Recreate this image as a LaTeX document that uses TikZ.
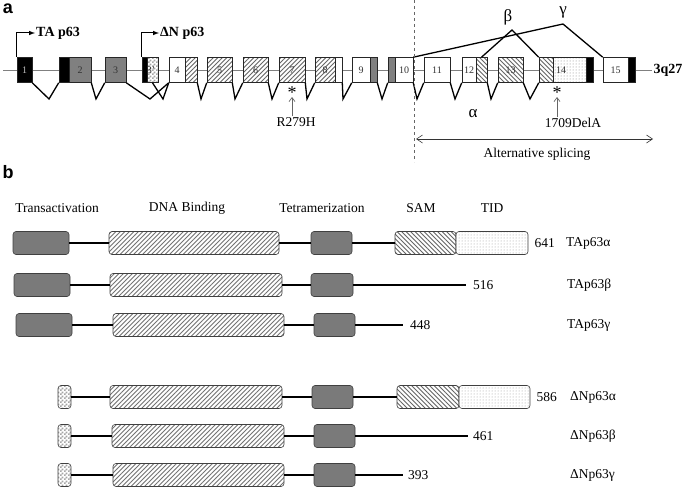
\documentclass[tikz,border=0pt]{standalone}
\usepackage{fontspec}
\setmainfont{Liberation Serif}
\setsansfont{Liberation Sans}
\usetikzlibrary{patterns,positioning,arrows.meta}

\pgfdeclarepatternformonly{hatchne}{\pgfqpoint{-1pt}{-1pt}}{\pgfqpoint{5.5pt}{5.5pt}}{\pgfqpoint{4.5pt}{4.5pt}}{%
  \pgfsetlinewidth{0.9pt}
  \pgfpathmoveto{\pgfqpoint{0pt}{0pt}}
  \pgfpathlineto{\pgfqpoint{4.6pt}{4.6pt}}
  \pgfusepath{stroke}}
\pgfdeclarepatternformonly{hatchnw}{\pgfqpoint{-1pt}{-1pt}}{\pgfqpoint{5.5pt}{5.5pt}}{\pgfqpoint{4.5pt}{4.5pt}}{%
  \pgfsetlinewidth{0.9pt}
  \pgfpathmoveto{\pgfqpoint{0pt}{4.5pt}}
  \pgfpathlineto{\pgfqpoint{4.6pt}{-0.1pt}}
  \pgfusepath{stroke}}
\pgfdeclarepatternformonly{smallcheck}{\pgfqpoint{0pt}{0pt}}{\pgfqpoint{4pt}{4pt}}{\pgfqpoint{4pt}{4pt}}{%
  \pgfpathrectangle{\pgfqpoint{0pt}{0pt}}{\pgfqpoint{2pt}{2pt}}
  \pgfpathrectangle{\pgfqpoint{2pt}{2pt}}{\pgfqpoint{2pt}{2pt}}
  \pgfusepath{fill}}

\begin{document}
\begin{tikzpicture}[x=1pt,y=-1pt,
   exon/.style={draw=black!85,line width=.6pt,minimum height=25pt,inner sep=0pt,
     font=\fontsize{10}{10}\selectfont,text=black!80},
   blk/.style={exon,fill=black},
   gry/.style={exon,fill=black!50},
   wht/.style={exon,fill=white},
   hne/.style={exon,preaction={fill=white},pattern=hatchne,pattern color=black!60},
   hnw/.style={exon,preaction={fill=white},pattern=hatchnw,pattern color=black!60},
   dts/.style={exon,preaction={fill=white},pattern=dots,pattern color=black!50},
   chk/.style={exon,preaction={fill=white},pattern=smallcheck,pattern color=black!35},
   splice/.style={line width=1.3pt},
   txt/.style={font=\fontsize{13.5}{14}\selectfont,inner sep=1pt},
   bold/.style={font=\fontsize{14}{14}\selectfont\bfseries,inner sep=1pt},
   greek/.style={font=\fontsize{17}{17}\selectfont,inner sep=0pt},
   star/.style={font=\fontsize{18}{18}\selectfont,inner sep=0pt,anchor=north},
   panel/.style={font=\sffamily\bfseries\fontsize{18}{18}\selectfont,inner sep=0pt},
   barb/.style={{Straight Barb[length=6pt,width=8pt]}-{Straight Barb[length=6pt,width=8pt]}},
   mut/.style={-{Straight Barb[length=4pt,width=6pt]},black!60,line width=.7pt},
   dom/.style={draw=black!75,line width=.6pt,rounded corners=3pt,minimum height=23pt,inner sep=0pt},
   tadom/.style={dom,fill=black!52},
   dnadom/.style={dom,preaction={fill=white},pattern=hatchne,pattern color=black!55},
   samdom/.style={dom,preaction={fill=white},pattern=hatchnw,pattern color=black!60},
   tiddom/.style={dom,preaction={fill=white},pattern=dots,pattern color=black!40},
   chkdom/.style={dom,preaction={fill=white},pattern=smallcheck,pattern color=black!35},
   link/.style={line width=2.2pt}]
   \useasboundingbox (0,0) rectangle (685,487);

   \node[panel] (pa) at (8,9) {a};
   \node[panel] (pb) at (8,172) {b};

   \node[bold] (q27) at (668,70) {3q27};
   \coordinate (gstart) at (3,70);
   \draw[black!50,line width=.8pt] (gstart) -- (q27);

   \node[blk,minimum width=15pt] (e1) at (24.5,70) {\color{black!25}1};
   \node[blk,minimum width=10pt] (e2a) at (64,70) {};
   \node[gry,minimum width=22pt] (e2) at (80,70) {2};
   \node[gry,minimum width=21pt] (e3) at (115.5,70) {3};
   \node[blk,minimum width=5pt] (e3a) at (144.5,70) {};
   \node[chk,minimum width=11pt] (e3b) at (152.5,70) {};
   \node[exon,draw=none,minimum height=0pt] (l3) at (151,70) {3'};
   \node[wht,minimum width=16pt] (e4) at (177,70) {4};
   \node[hne,minimum width=12pt] (e4b) at (191,70) {};
   \node[hne,minimum width=25pt] (e5) at (219.5,70) {5};
   \node[hne,minimum width=25pt] (e6) at (255.5,70) {6};
   \node[hne,minimum width=26pt] (e7) at (292,70) {7};
   \node[hne,minimum width=20pt] (e8) at (325,70) {8};
   \node[wht,minimum width=7pt] (e8b) at (338.5,70) {};
   \node[wht,minimum width=18pt] (e9) at (361,70) {9};
   \node[gry,minimum width=7pt] (e9b) at (373.5,70) {};
   \node[gry,minimum width=7pt] (e10a) at (391.5,70) {};
   \node[wht,minimum width=18pt] (e10) at (404,70) {10};
   \node[wht,minimum width=26pt] (e11) at (437,70) {11};
   \node[wht,minimum width=14pt] (e12) at (469,70) {12};
   \node[hnw,minimum width=11pt] (e12b) at (481.5,70) {};
   \node[hnw,minimum width=25pt] (e13) at (510.5,70) {13};
   \node[hnw,minimum width=14pt] (e14a) at (546,70) {};
   \node[dts,minimum width=33pt] (e14) at (569.5,70) {};
   \node[exon,draw=none,minimum height=0pt] (l14) at (561,70) {14};
   \node[blk,minimum width=7pt] (e14b) at (589.5,70) {};
   \node[wht,minimum width=25pt] (e15) at (615.5,70) {15};
   \node[blk,minimum width=7pt] (e15b) at (631.5,70) {};

   \draw[splice] (e1.south east) -- (49,99) -- (e2a.south west);
   \draw[splice] (e2.south east) -- (96,99) -- (e3.south west);
   \draw[splice] (e3.south east) -- (150,99) -- (e4.south west);
   \draw[splice] (e3b.south) -- (163,99) -- (e4.south west);
   \draw[splice] (e4b.south east) -- (201,99) -- (e5.south west);
   \draw[splice] (e5.south east) -- (235,99) -- (e6.south west);
   \draw[splice] (e6.south east) -- (272,99) -- (e7.south west);
   \draw[splice] (e7.south east) -- (307,99) -- (e8.south west);
   \draw[splice] (e8b.south east) -- (343,99) -- (e9.south west);
   \draw[splice] (e9b.south east) -- (382,99) -- (e10a.south west);
   \draw[splice] (e10.south east) -- (417,99) -- (e11.south west);
   \draw[splice] (e11.south east) -- (455,99) -- (e12.south west);
   \draw[splice] (e12b.south east) -- (491,99) -- (e13.south west);
   \draw[splice] (e13.south east) -- (530,99) -- (e14a.south west);

   \coordinate (gpk) at (563,24);
   \coordinate (bpk) at (512,30);
   \draw[splice] (e10.north east) -- (gpk) -- (e15.north west);
   \draw[splice] (e12b.north) -- (bpk) -- (e14a.north west);
   \node[greek] (gam) at (563,12) {γ};
   \node[greek] (bet) at (508,17) {β};
   \node[greek] (alp) at (473,114) {α};

   \node[bold,anchor=west] (tap) at (35,33) {TA p63};
   \node[bold,anchor=west] (dnp) at (159,33) {ΔN p63};
   \draw[-latex,line width=1pt] (e1.north west) |- (tap.west);
   \draw[-latex,line width=1pt] (e3a.north west) |- (dnp.west);

   \node[star] (s7) at (292,87) {*};
   \coordinate (t7) at (292,97);
   \node[txt] (r279) at (296,122) {R279H};
   \draw[mut] (r279.north -| t7) -- (t7);
   \node[star] (s14) at (557,87) {*};
   \coordinate (t14) at (557,97);
   \node[txt] (d1709) at (573,123) {1709DelA};
   \draw[mut] (d1709.north -| t14) -- (t14);

   \coordinate (dtop) at (414,0);
   \coordinate (dbot) at (414,162);
   \draw[dashed,black!60,line width=.7pt] (dtop) -- (dbot);
   \coordinate (as1) at (416,139);
   \coordinate (as2) at (653,139);
   \draw[barb,black!80,line width=.6pt] (as1) -- (as2);
   \node[txt] (alt) at (537,154) {Alternative splicing};

   \node[txt] (hta) at (57,208) {Transactivation};
   \node[txt] (hdna) at (187,208) {DNA Binding};
   \node[txt] (htet) at (322,208) {Tetramerization};
   \node[txt] (hsam) at (421,208) {SAM};
   \node[txt] (htid) at (492,208) {TID};

   \node[tadom,minimum width=56pt] (ta1) at (41,243) {};
   \node[dnadom,minimum width=170pt] (dna1) at (194,243) {};
   \node[tadom,minimum width=41pt] (tet1) at (331.5,243) {};
   \node[samdom,minimum width=61pt] (sam1) at (425.5,243) {};
   \node[tiddom,minimum width=72pt] (tid1) at (492,243) {};
   \draw[link] (ta1) -- (dna1) (dna1) -- (tet1) (tet1) -- (sam1);
   \node[txt,right=5pt of tid1] (n641) {641};
   \node[txt,anchor=west] (lta1) at (565,243) {TAp63α};

   \node[tadom,minimum width=56pt] (ta2) at (42,285) {};
   \node[dnadom,minimum width=172pt] (dna2) at (196,285) {};
   \node[tadom,minimum width=42pt] (tet2) at (332,285) {};
   \coordinate (end2) at (466,285);
   \draw[link] (ta2) -- (dna2) (dna2) -- (tet2) (tet2) -- (end2);
   \node[txt,right=6pt of end2] (n516) {516};
   \node[txt,anchor=west] (lta2) at (566,285) {TAp63β};

   \node[tadom,minimum width=56pt] (ta3) at (44,325) {};
   \node[dnadom,minimum width=171pt] (dna3) at (198.5,325) {};
   \node[tadom,minimum width=41pt] (tet3) at (334.5,325) {};
   \coordinate (end3) at (403,325);
   \draw[link] (ta3) -- (dna3) (dna3) -- (tet3) (tet3) -- (end3);
   \node[txt,right=6pt of end3] (n448) {448};
   \node[txt,anchor=west] (lta3) at (566,325) {TAp63γ};

   \node[chkdom,minimum width=13pt] (dn4) at (64.5,397) {};
   \node[dnadom,minimum width=172pt] (dna4) at (196,397) {};
   \node[tadom,minimum width=41pt] (tet4) at (332.5,397) {};
   \node[samdom,minimum width=62pt] (sam4) at (428,397) {};
   \node[tiddom,minimum width=71pt] (tid4) at (494.5,397) {};
   \draw[link] (dn4) -- (dna4) (dna4) -- (tet4) (tet4) -- (sam4);
   \node[txt,right=5pt of tid4] (n586) {586};
   \node[txt,anchor=west] (ldn4) at (569,397) {ΔNp63α};

   \node[chkdom,minimum width=13pt] (dn5) at (64.5,436) {};
   \node[dnadom,minimum width=172pt] (dna5) at (198,436) {};
   \node[tadom,minimum width=41pt] (tet5) at (334.5,436) {};
   \coordinate (end5) at (468,436);
   \draw[link] (dn5) -- (dna5) (dna5) -- (tet5) (tet5) -- (end5);
   \node[txt,right=4pt of end5] (n461) {461};
   \node[txt,anchor=west] (ldn5) at (569,436) {ΔNp63β};

   \node[chkdom,minimum width=13pt] (dn6) at (64.5,475) {};
   \node[dnadom,minimum width=171pt] (dna6) at (198.5,475) {};
   \node[tadom,minimum width=41pt] (tet6) at (334.5,475) {};
   \coordinate (end6) at (403,475);
   \draw[link] (dn6) -- (dna6) (dna6) -- (tet6) (tet6) -- (end6);
   \node[txt,right=4pt of end6] (n393) {393};
   \node[txt,anchor=west] (ldn6) at (569,475) {ΔNp63γ};
\end{tikzpicture}
\end{document}
